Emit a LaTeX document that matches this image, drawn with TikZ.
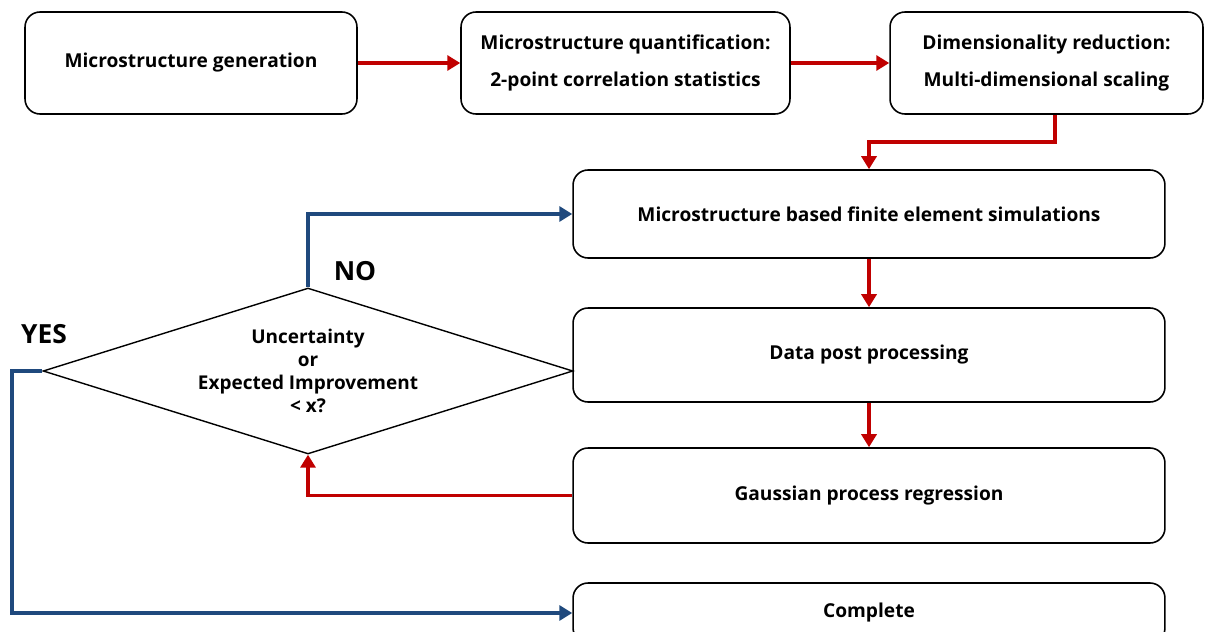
\documentclass[tikz,border=0pt]{standalone}
\usepackage{fontspec}
\setmainfont{Open Sans}
\usetikzlibrary{shapes.geometric,arrows.meta}
\definecolor{flowred}{RGB}{192,0,0}
\definecolor{flowblue}{RGB}{31,73,125}

\begin{document}
\begin{tikzpicture}[x=0.02cm,y=-0.02cm,
    box/.style={draw,rounded corners=0.3cm,line width=0.9pt,align=center,font=\bfseries\fontsize{10.9}{21}\selectfont},
    redarrow/.style={draw=flowred,line width=2.2pt,-{Triangle[length=0.26cm,width=0.3cm]}},
    bluearrow/.style={draw=flowblue,line width=2.2pt,-{Triangle[length=0.26cm,width=0.3cm]}},
    answer/.style={font=\bfseries\fontsize{15}{18}\selectfont}]
    \useasboundingbox (0,0) rectangle (1217,632);

    \node[box,minimum width=6.64cm,minimum height=2.04cm] (gen) at (191,63) {Microstructure generation};
    \node[box,minimum width=6.58cm,minimum height=2.04cm] (quant) at (625.5,63) {Microstructure quantification:\\2-point correlation statistics};
    \node[box,minimum width=6.26cm,minimum height=2.04cm] (dimred) at (1046.5,63) {Dimensionality reduction:\\Multi-dimensional scaling};

    \node[box,minimum width=11.84cm,minimum height=1.76cm] (fem) at (869,214) {Microstructure based finite element simulations};
    \node[box,minimum width=11.84cm,minimum height=1.88cm] (post) at (869,355) {Data post processing};
    \node[box,minimum width=11.84cm,minimum height=1.9cm] (gpr) at (869,495.5) {Gaussian process regression};
    \node[box,minimum width=11.84cm,minimum height=1.2cm] (done) at (869,613) {Complete};

    \node[draw,diamond,aspect=3.19,minimum width=10.6cm,minimum height=3.32cm,inner sep=0pt,line width=0.8pt,align=center,font=\bfseries\fontsize{10.8}{13}\selectfont] (check) at (308,371) {Uncertainty\\or\\Expected Improvement\\< x?};

    \node[answer] (no) at (355,271) {NO};
    \node[answer] (yes) at (44,334) {YES};

    \coordinate (drop) at (1055,142);
    \draw[redarrow] (gen) -- (quant);
    \draw[redarrow] (quant) -- (dimred);
    \draw[redarrow] (drop |- dimred.south) -- (drop) -| (fem.north);
    \draw[redarrow] (fem) -- (post);
    \draw[redarrow] (post) -- (gpr);
    \draw[redarrow] (gpr.west) -| (check.south);
    \draw[bluearrow] (check.north) |- (fem.west);
    \draw[bluearrow] (check.west) -- ++(-30,0) |- (done.west);
  \end{tikzpicture}
\end{document}
